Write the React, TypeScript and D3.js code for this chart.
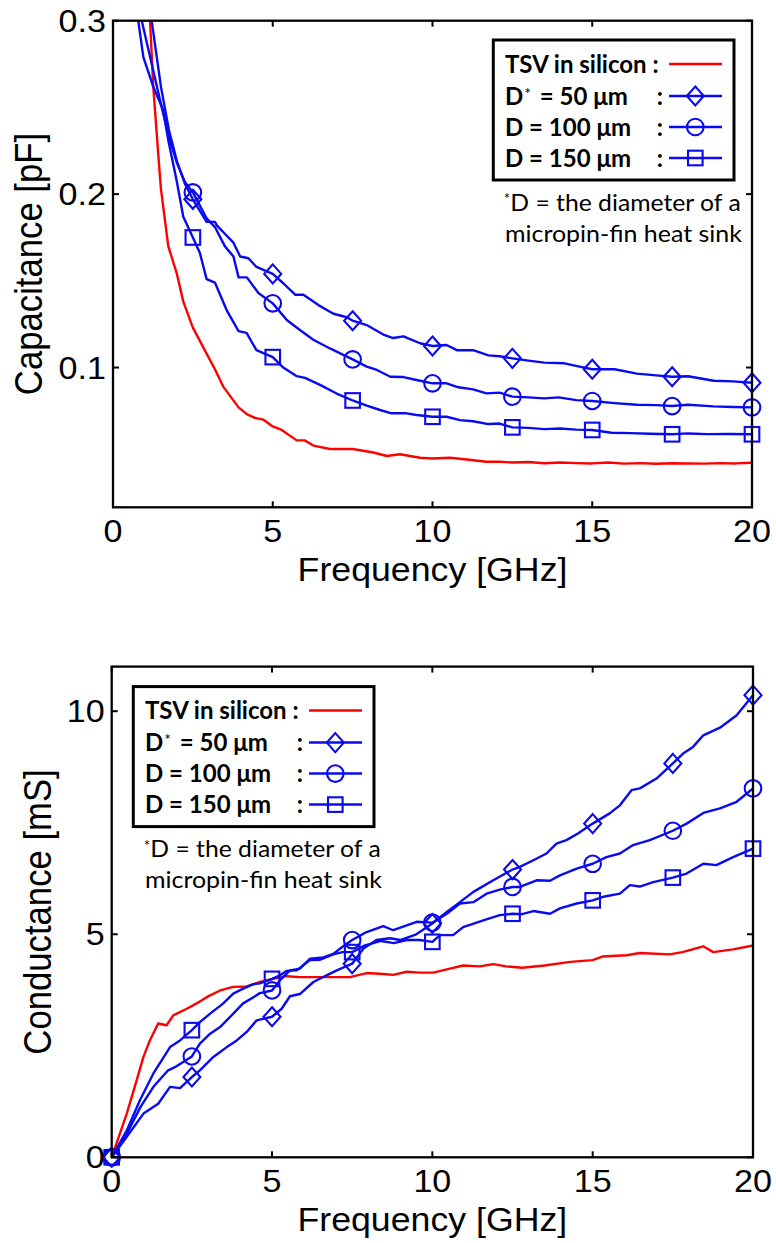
import React from 'react';
import * as d3 from 'd3';

// ---------------- DATA ----------------
const freqTicks = [0, 5, 10, 15, 20];
const freqTickLabels = ['0', '5', '10', '15', '20'];
const capTicks = [0.1, 0.2, 0.3];
const capTickLabels = ['0.1', '0.2', '0.3'];
const condTicks = [0, 5, 10];
const condTickLabels = ['0', '5', '10'];
const markerStep = 2.5;

const legendLabels = ['TSV in silicon :', 'D', '= 50 μm', 'D = 100 μm', 'D = 150 μm'];
const footnoteLines = ['D = the diameter of a', 'micropin-fin heat sink'];

// Capacitance [pF] vs frequency [GHz]
const capTsvFreq = [0.5, 0.75, 1.0, 1.16, 1.26, 1.42, 1.5, 1.73, 2.0, 2.2, 2.5, 2.93, 3.19, 3.45, 3.93, 4.2, 4.44, 4.7, 5.0, 5.28, 5.75, 6.0, 6.27, 6.79, 7.5, 8.15, 8.57, 8.98, 9.61, 10.0, 10.55, 11.07, 11.69, 12.1, 12.5, 13.0, 13.5, 14.0, 14.5, 15.0, 15.5, 16.0, 16.5, 17.0, 17.5, 18.0, 18.5, 19.0, 19.5, 20.0];
const capTsvVal = [0.9, 0.55, 0.37, 0.3, 0.262, 0.222, 0.203, 0.17, 0.154, 0.138, 0.123, 0.108, 0.099, 0.089, 0.077, 0.073, 0.071, 0.07, 0.066, 0.064, 0.058, 0.058, 0.055, 0.053, 0.053, 0.051, 0.049, 0.05, 0.048, 0.0475, 0.048, 0.047, 0.0457, 0.0457, 0.0452, 0.0455, 0.0448, 0.0452, 0.0449, 0.0447, 0.0452, 0.0446, 0.0449, 0.0445, 0.0448, 0.0447, 0.0446, 0.0449, 0.0447, 0.0451];

const capD50Freq = [1.0, 1.21, 1.5, 1.75, 2.0, 2.25, 2.5, 2.93, 3.19, 3.25, 3.56, 3.77, 3.98, 4.24, 4.49, 5.0, 5.33, 5.7, 5.96, 6.43, 6.9, 7.32, 7.5, 7.94, 8.46, 8.77, 9.09, 9.61, 10.0, 10.44, 10.76, 11.27, 11.75, 12.1, 12.5, 13.0, 13.5, 14.1, 14.6, 15.0, 15.7, 16.4, 17.0, 17.5, 18.0, 18.8, 19.4, 20.0];
const capD50Val = [0.34, 0.3, 0.262, 0.237, 0.219, 0.206, 0.197, 0.184, 0.184, 0.182, 0.176, 0.172, 0.164, 0.163, 0.158, 0.154, 0.1486, 0.142, 0.142, 0.136, 0.131, 0.129, 0.127, 0.1245, 0.119, 0.117, 0.118, 0.114, 0.1124, 0.113, 0.11, 0.11, 0.107, 0.1065, 0.1053, 0.104, 0.1028, 0.1025, 0.1005, 0.099, 0.099, 0.0965, 0.0955, 0.0947, 0.095, 0.0924, 0.092, 0.0912];

const capD100Freq = [0.75, 0.9, 1.25, 1.5, 1.75, 2.0, 2.25, 2.5, 2.93, 3.19, 3.5, 3.77, 3.93, 4.19, 4.55, 5.0, 5.44, 5.85, 6.27, 6.79, 7.5, 7.94, 8.26, 8.68, 9.09, 9.5, 10.0, 10.44, 10.81, 11.27, 11.69, 12.1, 12.5, 13.0, 13.5, 13.95, 14.5, 15.0, 15.7, 16.4, 17.0, 17.5, 18.0, 18.8, 19.4, 20.0];
const capD100Val = [0.34, 0.3, 0.272, 0.252, 0.233, 0.218, 0.207, 0.201, 0.186, 0.181, 0.17, 0.164, 0.152, 0.152, 0.143, 0.137, 0.1274, 0.1216, 0.116, 0.111, 0.1047, 0.1005, 0.0986, 0.0947, 0.0945, 0.0928, 0.0909, 0.0909, 0.0886, 0.0874, 0.0851, 0.0855, 0.0832, 0.0828, 0.0822, 0.0828, 0.0812, 0.0807, 0.0795, 0.0785, 0.0783, 0.0778, 0.0785, 0.0776, 0.0772, 0.077];

const capD150Freq = [0.6, 0.79, 0.95, 1.26, 1.57, 1.73, 1.99, 2.2, 2.5, 2.72, 2.93, 3.19, 3.56, 3.93, 4.18, 4.49, 5.0, 5.33, 5.75, 6.01, 6.48, 7.0, 7.5, 7.94, 8.36, 8.72, 9.19, 9.5, 10.0, 10.44, 10.86, 11.27, 11.75, 12.1, 12.5, 13.0, 13.5, 14.0, 14.5, 15.0, 15.6, 16.2, 16.8, 17.5, 18.0, 18.6, 19.3, 20.0];
const capD150Val = [0.34, 0.3, 0.279, 0.262, 0.2485, 0.231, 0.208, 0.187, 0.175, 0.166, 0.151, 0.149, 0.133, 0.121, 0.12, 0.11, 0.106, 0.1, 0.095, 0.094, 0.09, 0.085, 0.081, 0.078, 0.0755, 0.0736, 0.0736, 0.0726, 0.0716, 0.0716, 0.0697, 0.069, 0.0674, 0.0677, 0.0655, 0.0652, 0.0645, 0.0648, 0.0642, 0.064, 0.0624, 0.0622, 0.0618, 0.0615, 0.062, 0.0616, 0.0617, 0.0615];

// Conductance [mS] vs frequency [GHz]
const condTsvFreq = [0, 0.47, 0.78, 0.99, 1.19, 1.45, 1.71, 1.92, 2.34, 2.65, 2.96, 3.38, 3.79, 4.21, 4.62, 5.04, 5.46, 5.87, 6.7, 7.43, 7.95, 8.47, 8.78, 9.2, 9.61, 10.03, 10.55, 10.96, 11.48, 11.9, 12.3, 12.8, 13.5, 14.3, 15.0, 15.3, 16.06, 16.47, 17.4, 17.8, 18.45, 18.76, 19.38, 20.0];
const condTsvVal = [0, 0.98, 1.73, 2.25, 2.62, 3.0, 2.96, 3.18, 3.33, 3.45, 3.59, 3.74, 3.82, 3.83, 3.93, 4.0, 4.06, 4.04, 4.04, 4.04, 4.13, 4.11, 4.09, 4.16, 4.14, 4.14, 4.23, 4.3, 4.28, 4.33, 4.28, 4.25, 4.3, 4.38, 4.42, 4.5, 4.53, 4.58, 4.55, 4.6, 4.73, 4.6, 4.66, 4.75];

const condD50Freq = [0, 0.47, 0.99, 1.45, 1.82, 2.13, 2.5, 2.75, 3.17, 3.59, 3.9, 4.21, 4.52, 5.0, 5.3, 5.56, 5.87, 6.29, 6.7, 7.02, 7.5, 7.85, 8.26, 8.68, 9.0, 9.5, 10.0, 10.45, 10.86, 11.28, 11.9, 12.5, 12.73, 13.15, 13.56, 13.87, 14.18, 14.54, 15.0, 15.53, 15.85, 16.21, 16.47, 16.99, 17.5, 17.82, 18.13, 18.45, 18.97, 19.49, 20.0];
const condD50Val = [0, 0.46, 0.98, 1.2, 1.58, 1.55, 1.8, 1.95, 2.25, 2.47, 2.62, 2.81, 3.07, 3.15, 3.33, 3.61, 3.66, 3.93, 4.08, 4.19, 4.34, 4.68, 4.87, 4.91, 4.87, 5.0, 5.24, 5.5, 5.72, 5.95, 6.21, 6.45, 6.51, 6.66, 6.81, 7.03, 7.11, 7.26, 7.48, 7.71, 7.89, 8.23, 8.27, 8.49, 8.83, 9.05, 9.2, 9.46, 9.63, 9.91, 10.36];

const condD100Freq = [0, 0.47, 0.9, 1.3, 1.76, 1.97, 2.5, 2.75, 3.07, 3.38, 3.79, 4.1, 4.42, 4.62, 5.0, 5.25, 5.56, 5.87, 6.18, 6.6, 6.91, 7.22, 7.5, 7.95, 8.47, 8.78, 9.2, 9.51, 10.0, 10.45, 10.86, 11.28, 11.69, 12.1, 12.5, 12.73, 13.25, 13.67, 13.98, 14.5, 15.0, 15.43, 15.85, 16.26, 16.78, 17.5, 17.93, 18.45, 18.97, 19.49, 20.0];
const condD100Val = [0, 0.53, 1.13, 1.58, 1.95, 2.02, 2.26, 2.55, 2.77, 2.92, 3.22, 3.45, 3.59, 3.68, 3.74, 3.97, 4.19, 4.23, 4.45, 4.48, 4.56, 4.73, 4.87, 5.05, 5.18, 5.09, 5.2, 5.28, 5.26, 5.46, 5.69, 5.72, 5.91, 6.0, 6.06, 6.06, 6.21, 6.2, 6.32, 6.47, 6.58, 6.73, 6.81, 7.0, 7.11, 7.32, 7.48, 7.72, 7.82, 7.97, 8.27];

const condD150Freq = [0, 0.47, 0.88, 1.3, 1.82, 2.13, 2.5, 2.75, 3.07, 3.48, 3.79, 4.1, 4.42, 4.62, 5.0, 5.25, 5.46, 5.77, 6.18, 6.5, 6.91, 7.2, 7.5, 7.9, 8.4, 8.8, 9.2, 9.6, 10.0, 10.24, 10.65, 10.96, 11.59, 12.1, 12.5, 12.8, 13.15, 13.67, 13.98, 14.5, 15.0, 15.33, 15.85, 16.16, 16.47, 16.89, 17.5, 17.93, 18.45, 18.86, 19.38, 20.0];
const condD150Val = [0, 0.6, 1.28, 1.88, 2.47, 2.62, 2.85, 3.03, 3.22, 3.45, 3.67, 3.78, 3.88, 3.9, 4.0, 4.08, 4.18, 4.19, 4.42, 4.43, 4.55, 4.6, 4.6, 4.75, 4.85, 4.8, 4.87, 4.87, 4.83, 4.98, 4.98, 5.16, 5.31, 5.43, 5.46, 5.45, 5.52, 5.46, 5.58, 5.69, 5.76, 5.84, 5.91, 6.1, 6.07, 6.17, 6.27, 6.36, 6.58, 6.55, 6.73, 6.92];

// ---------------- STYLE ----------------
const RED = '#ff0000';
const BLUE = '#0a0af0';
const SX = 1.1;
const TICK_FONT = '"Liberation Sans", Arial, sans-serif';
const LEG_FONT = 'Lato, "Open Sans", sans-serif';

type Series = { freq: number[]; val: number[]; color: string; marker: string | null };

const capSeries: Series[] = [
  { freq: capTsvFreq, val: capTsvVal, color: RED, marker: null },
  { freq: capD50Freq, val: capD50Val, color: BLUE, marker: 'diamond' },
  { freq: capD100Freq, val: capD100Val, color: BLUE, marker: 'circle' },
  { freq: capD150Freq, val: capD150Val, color: BLUE, marker: 'square' },
];
const condSeries: Series[] = [
  { freq: condTsvFreq, val: condTsvVal, color: RED, marker: null },
  { freq: condD50Freq, val: condD50Val, color: BLUE, marker: 'diamond' },
  { freq: condD100Freq, val: condD100Val, color: BLUE, marker: 'circle' },
  { freq: condD150Freq, val: condD150Val, color: BLUE, marker: 'square' },
];

function Marker({ type, cx, cy, color }: { type: string; cx: number; cy: number; color: string }) {
  const common = { fill: 'none', stroke: color, strokeWidth: 2.1 };
  if (type === 'diamond')
    return <polygon points={`${cx},${cy - 9.5} ${cx + 8.5},${cy} ${cx},${cy + 9.5} ${cx - 8.5},${cy}`} {...common} />;
  if (type === 'circle') return <circle cx={cx} cy={cy} r={8.3} {...common} />;
  return <rect x={cx - 7.3} y={cy - 7.3} width={14.6} height={14.6} {...common} />;
}

function SText({ x, y, size, anchor = 'start', rotate = 0, children, sx = SX }: any) {
  return (
    <g transform={`translate(${x},${y}) scale(${sx},1)${rotate ? ` rotate(${rotate})` : ''}`}>
      <text x={0} y={0} fontFamily={TICK_FONT} fontSize={size} textAnchor={anchor} fill="#000">
        {children}
      </text>
    </g>
  );
}

function Legend({ x, y }: { x: number; y: number }) {
  const rows = [24, 56, 87, 118];
  const fs = 24;
  const base = (c: number) => c + 8.5;
  const lx0 = 175.7, lx1 = 228.7, mx = 202;
  const blueMarkers = ['diamond', 'circle', 'square'];
  return (
    <g transform={`translate(${x},${y})`}>
      <rect x={0} y={0} width={240.7} height={140} fill="#fff" stroke="#000" strokeWidth={3} />
      <g fontFamily={LEG_FONT} fontWeight="bold" fontSize={fs} fill="#000">
        <text x={11.7} y={base(rows[0])}>{legendLabels[0]}</text>
        <text x={11.7} y={base(rows[1])}>{legendLabels[1]}</text>
        <text x={31} y={base(rows[1]) - 6} fontSize={16} fontWeight="normal">*</text>
        <text x={46.5} y={base(rows[1])}>{legendLabels[2]}</text>
        <text x={11.7} y={base(rows[2])}>{legendLabels[3]}</text>
        <text x={11.7} y={base(rows[3])}>{legendLabels[4]}</text>
        {[1, 2, 3].map((i) => (
          <text key={i} x={163.4} y={base(rows[i])}>:</text>
        ))}
      </g>
      <line x1={lx0} x2={lx1} y1={rows[0]} y2={rows[0]} stroke={RED} strokeWidth={2.5} />
      {blueMarkers.map((m, i) => (
        <g key={m}>
          <line x1={lx0} x2={lx1} y1={rows[i + 1]} y2={rows[i + 1]} stroke={BLUE} strokeWidth={2.5} />
          <Marker type={m} cx={mx} cy={rows[i + 1]} color={BLUE} />
        </g>
      ))}
      <g fontFamily={LEG_FONT} fontSize={24} fill="#000">
        <text x={10.5} y={162 + 2} fontSize={15}>*</text>
        <g transform={`translate(17,${162 + 8.5}) scale(1.03,1)`}>
          <text x={0} y={0}>{footnoteLines[0]}</text>
        </g>
        <g transform={`translate(11.7,${193 + 8.5}) scale(1.04,1)`}>
          <text x={0} y={0}>{footnoteLines[1]}</text>
        </g>
      </g>
    </g>
  );
}

function Panel({ id, x0, x1, y0, y1, yDomain, yTicks, yTickLabels, yTitle, yTitleX, series, legendX, legendY }: any) {
  const xs = d3.scaleLinear().domain([0, 20]).range([x0, x1]);
  const ys = d3.scaleLinear().domain(yDomain).range([y1, y0]);
  const line = d3
    .line<[number, number]>()
    .x((d) => xs(d[0]))
    .y((d) => ys(d[1]));
  const tl = 6;
  return (
    <g>
      <defs>
        <clipPath id={id}>
          <rect x={x0} y={y0} width={x1 - x0} height={y1 - y0} />
        </clipPath>
      </defs>
      <g clipPath={`url(#${id})`}>
        {series.map((s: Series, i: number) => (
          <path
            key={i}
            d={line(s.freq.map((f, k) => [f, s.val[k]] as [number, number])) || ''}
            fill="none"
            stroke={s.color}
            strokeWidth={2.4}
            strokeLinejoin="round"
          />
        ))}
      </g>
      {series.map((s: Series, i: number) =>
        s.marker
          ? s.freq.map((f, k) => {
              const r = f / markerStep;
              const v = s.val[k];
              if (Math.abs(r - Math.round(r)) > 1e-9) return null;
              if (v < yDomain[0] || v > yDomain[1]) return null;
              return <Marker key={`${i}-${k}`} type={s.marker as string} cx={xs(f)} cy={ys(v)} color={s.color} />;
            })
          : null
      )}
      <rect x={x0} y={y0} width={x1 - x0} height={y1 - y0} fill="none" stroke="#000" strokeWidth={2.3} />
      {freqTicks.map((t, i) => (
        <g key={`xt${i}`}>
          <line x1={xs(t)} x2={xs(t)} y1={y1} y2={y1 - tl} stroke="#000" strokeWidth={2} />
          <line x1={xs(t)} x2={xs(t)} y1={y0} y2={y0 + tl} stroke="#000" strokeWidth={2} />
          <SText x={xs(t)} y={y1 + 34.5} size={31} anchor="middle">
            {freqTickLabels[i]}
          </SText>
        </g>
      ))}
      {yTicks.map((t: number, i: number) => (
        <g key={`yt${i}`}>
          <line x1={x0} x2={x0 + tl} y1={ys(t)} y2={ys(t)} stroke="#000" strokeWidth={2} />
          <line x1={x1} x2={x1 - tl} y1={ys(t)} y2={ys(t)} stroke="#000" strokeWidth={2} />
          <SText x={x0 - 7} y={ys(t) + 11} size={31} anchor="end">
            {yTickLabels[i]}
          </SText>
        </g>
      ))}
      <SText x={(x0 + x1) / 2} y={y1 + 73.5} size={34} anchor="middle" sx={1.05}>
        Frequency [GHz]
      </SText>
      <SText x={yTitleX} y={(y0 + y1) / 2} size={34.7} anchor="middle" rotate={-90}>
        {yTitle}
      </SText>
      <Legend x={legendX} y={legendY} />
    </g>
  );
}

export default function App() {
  return (
    <svg
      width={776}
      height={1243}
      viewBox="0 0 776 1243"
      style={{ position: 'absolute', left: 0, top: 0, display: 'block', background: '#fff' }}
    >
      <rect x={0} y={0} width={776} height={1243} fill="#fff" />
      <Panel
        id="clipTop"
        x0={113}
        x1={752}
        y0={20.7}
        y1={507.3}
        yDomain={[0.0194, 0.3]}
        yTicks={capTicks}
        yTickLabels={capTickLabels}
        yTitle="Capacitance [pF]"
        yTitleX={42}
        series={capSeries}
        legendX={493.3}
        legendY={40}
      />
      <Panel
        id="clipBottom"
        x0={111.7}
        x1={753}
        y0={666.6}
        y1={1157.3}
        yDomain={[0, 11]}
        yTicks={condTicks}
        yTickLabels={condTickLabels}
        yTitle="Conductance [mS]"
        yTitleX={51}
        series={condSeries}
        legendX={133.3}
        legendY={686.6}
      />
    </svg>
  );
}
